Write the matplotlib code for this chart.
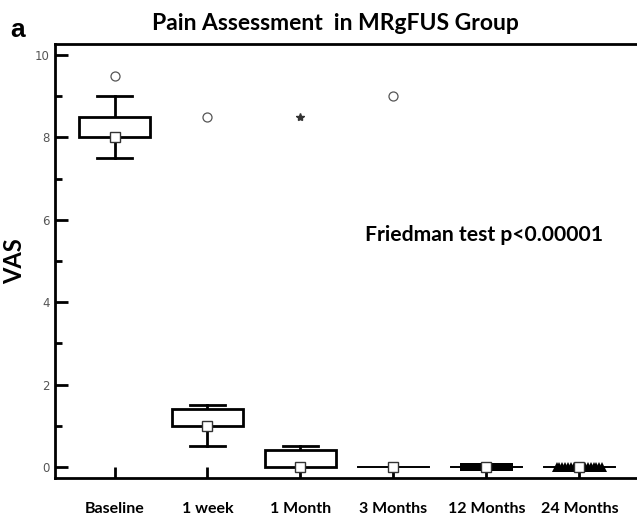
import numpy as np
import matplotlib
matplotlib.use("Agg")
import matplotlib.pyplot as plt
from matplotlib.patches import Rectangle

# data
categories = ["Baseline", "1 week", "1 Month", "3 Months", "12 Months", "24 Months"]
q1 = [8.0, 1.0, 0.0, 0.0, 0.0, 0.0]
q3 = [8.5, 1.4, 0.4, 0.0, 0.0, 0.0]
whisker_lo = [7.5, 0.5, 0.0, 0.0, 0.0, 0.0]
whisker_hi = [9.0, 1.5, 0.5, 0.0, 0.0, 0.0]
center = [8.0, 1.0, 0.0, 0.0, 0.0, 0.0]
outlier_cat = [0, 1, 2, 3]
outlier_val = [9.5, 8.5, 8.5, 9.0]
outlier_mark = ["o", "o", "*", "o"]
# many tied outliers at zero (drawn as dense marker bands)
zero_cat = [4, 5]
zero_val = [0.0, 0.0]
zero_mark = ["s", "^"]

BOX_W = 0.76
CAP_W = 0.38
LW = 2.0
FONT = "Lato"

fig = plt.figure(figsize=(6.37, 5.16), dpi=100)
ax = fig.add_axes([55 / 637, 38 / 516, 1 - 55 / 637, 434 / 516])

xs = np.arange(1, len(categories) + 1)
for i, x in enumerate(xs):
    # whiskers + caps
    if whisker_hi[i] > q3[i]:
        ax.plot([x, x], [q3[i], whisker_hi[i]], color="black", lw=LW, zorder=2)
        ax.plot([x - CAP_W / 2, x + CAP_W / 2], [whisker_hi[i]] * 2, color="black", lw=LW, zorder=2)
    if whisker_lo[i] < q1[i]:
        ax.plot([x, x], [whisker_lo[i], q1[i]], color="black", lw=LW, zorder=2)
        ax.plot([x - CAP_W / 2, x + CAP_W / 2], [whisker_lo[i]] * 2, color="black", lw=LW, zorder=2)
    if q3[i] > q1[i]:
        ax.add_patch(Rectangle((x - BOX_W / 2, q1[i]), BOX_W, q3[i] - q1[i],
                               facecolor="white", edgecolor="black", lw=LW, zorder=2))
    else:
        ax.plot([x - BOX_W / 2, x + BOX_W / 2], [q1[i]] * 2, color="black", lw=1.4, zorder=2)

for c, v, m in zip(zero_cat, zero_val, zero_mark):
    x = xs[c]
    if m == "s":
        band = np.linspace(x - 0.245, x + 0.245, 24)
        ax.plot(band, [v] * len(band), ls="none", marker="s", ms=6, mfc="black", mec="black",
                mew=0, zorder=3)
    else:
        band = np.linspace(x - 0.245, x + 0.245, 17)
        ax.plot(band, [v] * len(band), ls="none", marker="^", ms=6.5, mfc="black", mec="black",
                mew=0, zorder=3)
        ax.plot(band, [v - 0.03] * len(band), ls="none", marker="s", ms=3.5, mfc="black",
                mec="black", mew=0, zorder=3)

for c, v, m in zip(outlier_cat, outlier_val, outlier_mark):
    if m == "*":
        ax.plot(xs[c], v, marker=m, ms=6, color="#333333", ls="none", zorder=3)
    else:
        ax.plot(xs[c], v, marker=m, ms=6.5, mfc="white", mec="#555555", mew=0.9, ls="none", zorder=3)

ax.plot(xs, center, ls="none", marker="s", ms=7, mfc="white", mec="#333333", mew=1.0, zorder=4)

ax.set_xlim(0.36, 6.62)
ax.set_ylim(-0.27, 10.27)
ax.set_yticks([0, 2, 4, 6, 8, 10])
ax.set_yticks([1, 3, 5, 7, 9], minor=True)
ax.set_xticks(xs)
ax.set_xticklabels(categories, fontfamily=FONT, fontweight="bold", fontsize=11.5)
ax.tick_params(axis="x", direction="in", length=8, width=LW, pad=17)
ax.tick_params(axis="y", which="major", direction="in", length=9, width=LW,
               labelsize=8.5, labelcolor="#555555", pad=4)
ax.tick_params(axis="y", which="minor", direction="in", length=5, width=LW)
for side in ["left", "bottom", "top"]:
    ax.spines[side].set_linewidth(LW)
ax.spines["right"].set_visible(False)

ax.set_ylabel("VAS", fontfamily=FONT, fontweight="bold", fontsize=17)
ax.yaxis.set_label_coords(-29 / 582, 0.5)
ax.text(310 / 582, 0.56, "Friedman test p<0.00001", transform=ax.transAxes,
        fontfamily=FONT, fontweight="bold", fontsize=15.2, va="center")

fig.text(335 / 637, 1 - 23 / 516, "Pain Assessment  in MRgFUS Group",
         fontfamily=FONT, fontweight="bold", fontsize=16.5, ha="center", va="center")
fig.text(10 / 637, 1 - 30 / 516, "a", fontfamily="Liberation Sans", fontweight="bold",
         fontsize=19, ha="left", va="center")

fig.savefig("out.png", dpi=100)
